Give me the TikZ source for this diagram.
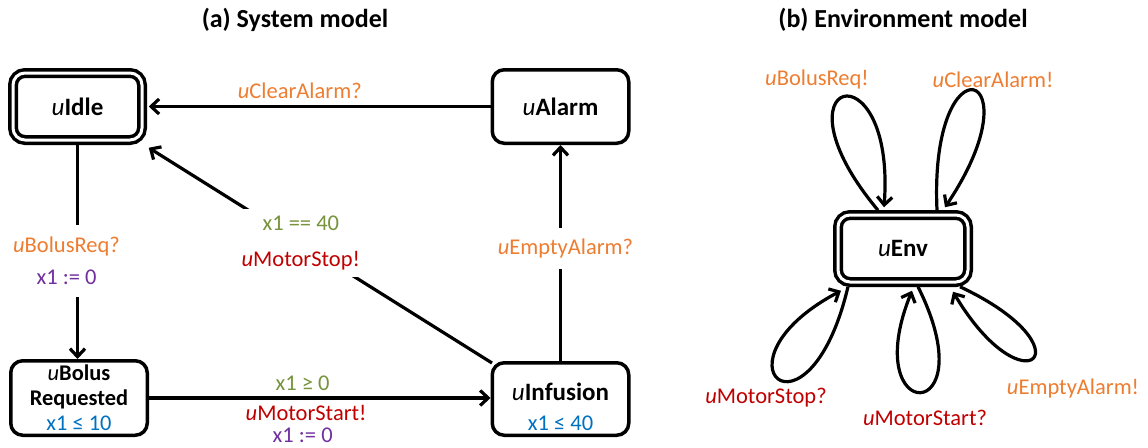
\documentclass[tikz,border=0pt]{standalone}
\usepackage{fontspec}
\setmainfont{Carlito}
\usetikzlibrary{arrows.meta}
\definecolor{corange}{HTML}{ED7D31}
\definecolor{cred}{HTML}{C00000}
\definecolor{cgreen}{HTML}{77933C}
\definecolor{cpurple}{HTML}{7030A0}
\definecolor{cblue}{HTML}{0070C0}
\newcommand{\uloc}[1]{\textit{u}\textbf{#1}}
\newcommand{\uch}[1]{\textit{u}#1}
\begin{document}
\begin{tikzpicture}[x=1pt,y=-1pt,
  statebox/.style={draw, line width=3.5pt, rounded corners=12pt, inner sep=0pt,
    font=\fontsize{25}{29}\selectfont},
  initbox/.style={statebox, double, double distance=3pt},
  arr/.style={line width=3.2pt, -{Straight Barb[length=8pt,width=15pt]}},
  lab/.style={font=\fontsize{22.5}{26}\selectfont, inner sep=1pt},
  title/.style={font=\fontsize{26}{31}\selectfont\bfseries}]
\useasboundingbox (0,0) rectangle (1148,447);

% headings
\node[title] (ta) at (295,20) {(a) System model};
\node[title] (tb) at (903,20) {(b) Environment model};

% ---- system model ----
\node[initbox, minimum width=129pt, minimum height=67pt] (idle) at (77.5,106.5) {\uloc{Idle}};
\node[statebox, minimum width=136.5pt, minimum height=73.5pt] (alarm) at (560.5,106.5) {\uloc{Alarm}};
\node[statebox, minimum width=136.5pt, minimum height=74.5pt, align=center,
      font=\fontsize{22.4}{25}\selectfont] (bolus) at (79,398)
      {\uloc{Bolus}\\\textbf{Requested}\\{\color{cblue}x1 ≤ 10}};
\node[statebox, minimum width=136.5pt, minimum height=72.5pt] (inf) at (560.5,399) {};
\node[font=\fontsize{25}{29}\selectfont, inner sep=0pt] (infname) at (560.5,392) {\uloc{Infusion}};
\node[lab, text=cblue] (infinv) at (560.5,423) {x1 ≤ 40};

% uAlarm -> uIdle
\draw[arr, shorten >=5pt] (alarm.west) -- (idle.east)
  node[lab, pos=0.55, yshift=16pt, text=corange] (l1) {\uch{ClearAlarm?}};

% uIdle -> uBolus Requested
\draw[arr] (idle.south) -- (idle.south |- bolus.north)
  node[lab, pos=0.55, xshift=-11pt, fill=white, align=center, inner ysep=12pt,
       font=\fontsize{22.5}{32}\selectfont] (l2)
  {{\color{corange}\uch{BolusReq?}}\\{\color{cpurple}x1 := 0}};

% uInfusion -> uIdle
\draw[arr] ([shift={(1.5,2)}]inf.north west) -- ([shift={(5,6)}]idle.south east)
  node[lab, pos=0.557, fill=white, align=center, inner ysep=7pt,
       font=\fontsize{22.5}{36}\selectfont] (l3)
  {{\color{cgreen}x1 == 40}\\{\color{cred}\uch{MotorStop!}}};

% uBolus Requested -> uInfusion
\draw[arr] (bolus.east) -- (inf.west |- bolus.east)
  node[lab, pos=0.45, yshift=15pt, text=cgreen] (l4) {x1 ≥ 0}
  node[lab, pos=0.46, yshift=-15pt, text=cred] (l5) {\uch{MotorStart!}}
  node[lab, pos=0.45, yshift=-37pt, text=cpurple] (l6) {x1 := 0};

% uInfusion -> uAlarm
\draw[arr] (inf.north) -- (alarm.south)
  node[lab, pos=0.52, xshift=5pt, fill=white, inner ysep=11pt, text=corange] (l7) {\uch{EmptyAlarm?}};

% ---- environment model ----
\node[initbox, minimum width=130pt, minimum height=67pt] (env) at (903,248.5) {\uloc{Env}};

\draw[arr] ([shift={(-25,-3)}]env.north) .. controls +(-112,-134) and +(12,-164) .. ([shift={(-19,-6)}]env.north);
\draw[arr] ([shift={(34,-3)}]env.north) .. controls +(-8,-176) and +(94,-140) .. ([shift={(42,-6)}]env.north);
\draw[arr] ([shift={(-55,3)}]env.south) .. controls +(-40,168) and +(-136,72) .. ([shift={(-62,7)}]env.south);
\draw[arr] ([shift={(15,3)}]env.south) .. controls +(70,140) and +(-55,136) .. ([shift={(9,7)}]env.south);
\draw[arr] ([shift={(57,3)}]env.south) .. controls +(132,62) and +(72,121) .. ([shift={(50,8)}]env.south);

\node[lab, text=corange] (e1) at (817,80) {\uch{BolusReq!}};
\node[lab, text=corange] (e2) at (993,80) {\uch{ClearAlarm!}};
\node[lab, text=cred] (e3) at (766,398) {\uch{MotorStop?}};
\node[lab, text=cred] (e4) at (925,418) {\uch{MotorStart?}};
\node[lab, text=corange] (e5) at (1073,388) {\uch{EmptyAlarm!}};
\end{tikzpicture}
\end{document}
